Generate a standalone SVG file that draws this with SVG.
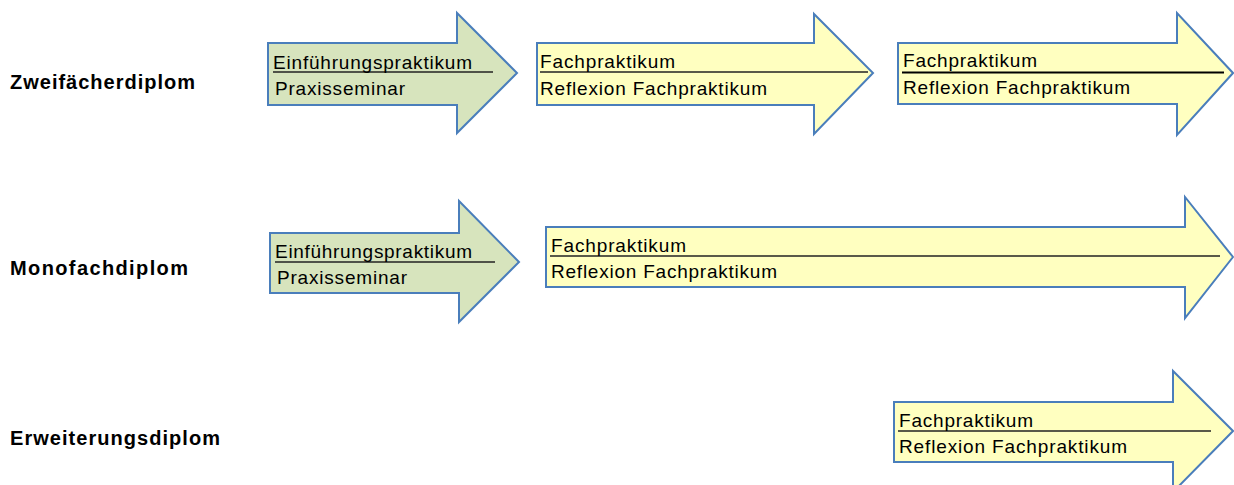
<svg xmlns="http://www.w3.org/2000/svg" width="1234" height="485" viewBox="0 0 1234 485">
<style>
.lbl{font-family:"Liberation Sans",Arial,sans-serif;font-size:20px;font-weight:bold;fill:#000}
.t{font-family:"Liberation Sans",Arial,sans-serif;font-size:19px;fill:#000}
.green{fill:#d7e4bd;stroke:#4a7ebb;stroke-width:2}
.yellow{fill:#ffffc0;stroke:#4a7ebb;stroke-width:2}
.sep{stroke:#222;stroke-width:1.5}
</style>
<rect width="1234" height="485" fill="#fff"/>
<g id="labels">
<text class="lbl" x="10" y="89" textLength="185" lengthAdjust="spacing">Zweifächerdiplom</text>
<text class="lbl" x="10" y="275" textLength="178" lengthAdjust="spacing">Monofachdiplom</text>
<text class="lbl" x="10" y="445" textLength="210" lengthAdjust="spacing">Erweiterungsdiplom</text>
</g>
<g id="z1">
<polygon class="green" points="268,43 457,43 457,13 517,73 457,133 457,105 268,105"/>
<line class="sep" x1="273" y1="72" x2="493" y2="72" stroke-width="1.2"/>
<text class="t" x="273" y="69" textLength="199" lengthAdjust="spacing">Einführungspraktikum</text>
<text class="t" x="275" y="95" textLength="130" lengthAdjust="spacing">Praxisseminar</text>
</g>
<g id="z2">
<polygon class="yellow" points="537,43 814,43 814,14 873,73 814,134 814,105 537,105"/>
<line class="sep" x1="540" y1="72" x2="868" y2="72"/>
<text class="t" x="540" y="68" textLength="135" lengthAdjust="spacing">Fachpraktikum</text>
<text class="t" x="540" y="95" textLength="227" lengthAdjust="spacing">Reflexion Fachpraktikum</text>
</g>
<g id="z3">
<polygon class="yellow" points="898,43 1177,43 1177,13 1233,73 1177,135 1177,104 898,104"/>
<line x1="902" y1="72.5" x2="1224" y2="72.5" stroke="#000" stroke-width="2"/>
<text class="t" x="903" y="67" textLength="134" lengthAdjust="spacing">Fachpraktikum</text>
<text class="t" x="903" y="94" textLength="227" lengthAdjust="spacing">Reflexion Fachpraktikum</text>
</g>
<g id="m1">
<polygon class="green" points="270,233 459,233 459,201 519,262 459,322 459,293 270,293"/>
<line class="sep" x1="275" y1="262" x2="495" y2="262" stroke-width="1.2"/>
<text class="t" x="275" y="258" textLength="197" lengthAdjust="spacing">Einführungspraktikum</text>
<text class="t" x="277" y="284" textLength="130" lengthAdjust="spacing">Praxisseminar</text>
</g>
<g id="m2">
<polygon class="yellow" points="546,227 1185,227 1185,197 1233,257 1185,318 1185,287 546,287"/>
<line class="sep" x1="550" y1="256" x2="1220" y2="256"/>
<text class="t" x="551" y="252" textLength="135" lengthAdjust="spacing">Fachpraktikum</text>
<text class="t" x="551" y="278" textLength="226" lengthAdjust="spacing">Reflexion Fachpraktikum</text>
</g>
<g id="e1">
<polygon class="yellow" points="894,402 1173,402 1173,371 1233,431 1173,492 1173,462 894,462"/>
<line class="sep" x1="898" y1="431" x2="1211" y2="431"/>
<text class="t" x="899" y="427" textLength="134" lengthAdjust="spacing">Fachpraktikum</text>
<text class="t" x="899" y="453" textLength="228" lengthAdjust="spacing">Reflexion Fachpraktikum</text>
</g>
<g id="connectors"></g>
</svg>
